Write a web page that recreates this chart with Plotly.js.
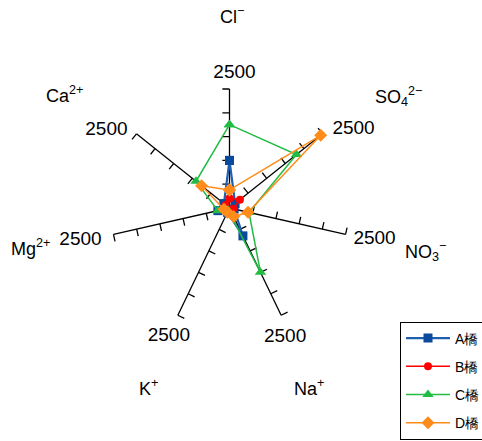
<!DOCTYPE html>
<html>
<head>
<meta charset="utf-8">
<script src="https://cdn.plot.ly/plotly-3.0.1.min.js"></script>
<style>html,body{margin:0;padding:0;background:#fff;}#chart{width:482px;height:441px;}</style>
</head>
<body>
<div id="chart"></div>
<script>
// ---- data ----
const categories = ['Cl<sup>−</sup>', 'SO<sub>4</sub><sup>2−</sup>', 'NO<sub>3</sub><sup>−</sup>', 'Na<sup>+</sup>', 'K<sup>+</sup>', 'Mg<sup>2+</sup>', 'Ca<sup>2+</sup>'];
const seriesNames = ['A橋', 'B橋', 'C橋', 'D橋'];
const valuesA = [1000, 150, 100, 650, 100, 250, 150];
const valuesB = [200, 280, 80, 60, 40, 80, 100];
const valuesC = [1750, 1800, 420, 1500, 60, 250, 900];
const valuesD = [380, 2450, 400, 200, 100, 120, 750];
const axisMax = 2500;
const tickValues = [500, 1000, 1500, 2000, 2500];
const maxLabel = '2500';

// ---- style ----
const colors = {
  A: {line: '#1f5fb0', marker: '#0a4a9c'},
  B: {line: '#ff0000', marker: '#ff0000'},
  C: {line: '#22bb44', marker: '#22bb44'},
  D: {line: '#ff8c1a', marker: '#ff8c1a'}
};
const FONT = 'Liberation Sans, Arial, sans-serif';
const W = 482, H = 441;
const N = categories.length;
const step = 360 / N;
const thetas = categories.map((_, i) => i * step);
const tickLen = 150;          // radial units
const rangeMax = 4300;
const cx = 229.5, cy = 208;   // polar centre (px)
const radiusPx = 204.7;       // px for rangeMax
const k = radiusPx / rangeMax; // px per unit
// pixel offsets (x right, y up) of the "2500" label centre from each axis end
const maxLabelOffset = [[5, 16], [31, 5], [29, -5], [4, -22], [-9, -21], [-33, -6], [-30, 4]];
// category label centres (px from top-left)
const catLabelPx = [[232, 16], [398, 97], [425, 251], [309, 387], [148, 387], [31, 247], [64, 95]];

// axis lines + ticks
const axR = [], axT = [];
thetas.forEach(th => {
  axR.push(0, axisMax, null); axT.push(th, th, null);
  tickValues.forEach(v => {
    const rt = Math.sqrt(v * v + tickLen * tickLen);
    const dt = Math.atan2(tickLen, v) * 180 / Math.PI;
    axR.push(v, rt, null); axT.push(th, th - dt, null);
  });
});

const traces = [];
traces.push({
  type: 'scatterpolar', mode: 'lines', r: axR, theta: axT,
  line: {color: '#000', width: 1.3}, connectgaps: false,
  showlegend: false, hoverinfo: 'skip'
});

// max labels: convert pixel offsets from axis end into polar coords
const mlR = [], mlT = [];
thetas.forEach((th, i) => {
  const a = th * Math.PI / 180;
  const ex = axisMax * k * Math.sin(a), ey = axisMax * k * Math.cos(a);
  const lx = ex + maxLabelOffset[i][0], ly = ey + maxLabelOffset[i][1];
  mlR.push(Math.hypot(lx, ly) / k);
  mlT.push(Math.atan2(lx, ly) * 180 / Math.PI);
});
traces.push({
  type: 'scatterpolar', mode: 'text', r: mlR, theta: mlT,
  text: thetas.map(() => maxLabel), textposition: 'middle center',
  textfont: {family: FONT, size: 19, color: '#000'},
  showlegend: false, hoverinfo: 'skip', cliponaxis: false
});

function closeLoop(a) { return a.concat([a[0]]); }
const seriesDefs = [
  {name: seriesNames[0], vals: valuesA, c: colors.A, sym: 'square', size: 9, lw: 2.2},
  {name: seriesNames[1], vals: valuesB, c: colors.B, sym: 'circle', size: 8, lw: 1.5},
  {name: seriesNames[2], vals: valuesC, c: colors.C, sym: 'triangle-up', size: 10, lw: 1.5},
  {name: seriesNames[3], vals: valuesD, c: colors.D, sym: 'diamond', size: 10, lw: 1.5}
];
seriesDefs.forEach((s, i) => {
  traces.push({
    type: 'scatterpolar', mode: 'lines+markers', name: s.name,
    r: closeLoop(s.vals), theta: closeLoop(thetas),
    line: {color: s.c.line, width: s.lw},
    marker: {color: s.c.marker, symbol: s.sym, size: s.size},
    legendgroup: 'g' + i, cliponaxis: false
  });
});

const annotations = categories.map((c, i) => ({
  xref: 'paper', yref: 'paper',
  x: catLabelPx[i][0] / W, y: 1 - catLabelPx[i][1] / H,
  xanchor: 'center', yanchor: 'middle', showarrow: false,
  text: c, font: {family: FONT, size: 18, color: '#000'}
}));

const layout = {
  width: W, height: H,
  margin: {l: 0, r: 0, t: 0, b: 0, autoexpand: false},
  paper_bgcolor: '#fff',
  showlegend: true,
  annotations: annotations,
  legend: {
    x: 400 / W, y: (H - 321.5) / H, xanchor: 'left', yanchor: 'top',
    bordercolor: '#000', borderwidth: 1, bgcolor: '#fff',
    font: {family: FONT, size: 14, color: '#000'},
    tracegroupgap: 7, itemwidth: 44
  },
  polar: {
    domain: {x: [(cx - radiusPx) / W, (cx + radiusPx) / W], y: [(H - cy - radiusPx) / H, (H - cy + radiusPx) / H]},
    bgcolor: 'rgba(0,0,0,0)',
    radialaxis: {visible: false, range: [0, rangeMax]},
    angularaxis: {visible: false, direction: 'clockwise', rotation: 90, thetaunit: 'degrees'}
  }
};

Plotly.newPlot('chart', traces, layout, {displayModeBar: false, staticPlot: true});
</script>
</body>
</html>
